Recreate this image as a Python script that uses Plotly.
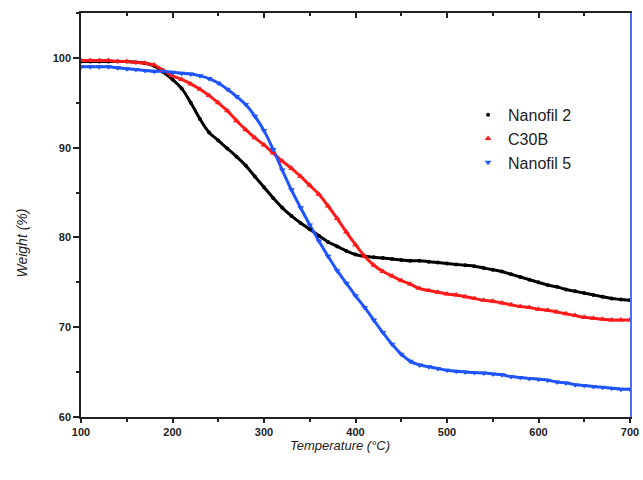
import plotly.graph_objects as go

temperature = [100, 110, 120, 130, 140, 150, 160, 170, 180, 190,
               200, 210, 220, 230, 240, 250, 260, 270, 280, 290,
               300, 310, 320, 330, 340, 350, 360, 370, 380, 390,
               400, 410, 420, 430, 440, 450, 460, 470, 480, 490,
               500, 510, 520, 530, 540, 550, 560, 570, 580, 590,
               600, 610, 620, 630, 640, 650, 660, 670, 680, 690, 700]

nanofil2 = [99.6, 99.6, 99.6, 99.6, 99.6, 99.6, 99.5, 99.4, 99.1, 98.4,
            97.6, 96.6, 95.0, 93.2, 91.7, 90.8, 89.9, 89.0, 88.0, 86.8,
            85.6, 84.4, 83.3, 82.4, 81.6, 80.9, 80.2, 79.5, 79.0, 78.5,
            78.1, 77.9, 77.8, 77.7, 77.6, 77.5, 77.4, 77.4, 77.3, 77.2,
            77.1, 77.0, 76.9, 76.8, 76.6, 76.4, 76.2, 75.9, 75.6, 75.3,
            75.0, 74.7, 74.5, 74.2, 74.0, 73.8, 73.6, 73.4, 73.2, 73.1, 73.0]

c30b = [99.7, 99.7, 99.7, 99.7, 99.6, 99.6, 99.5, 99.4, 99.2, 98.6,
        98.0, 97.6, 97.1, 96.5, 95.8, 95.0, 94.1, 93.0, 92.0, 91.1,
        90.3, 89.4, 88.5, 87.7, 86.8, 85.8, 84.8, 83.5, 82.1, 80.6,
        79.2, 77.9, 76.9, 76.2, 75.7, 75.2, 74.8, 74.3, 74.1, 73.9,
        73.7, 73.6, 73.4, 73.2, 73.0, 72.9, 72.7, 72.5, 72.3, 72.2,
        72.0, 71.9, 71.7, 71.5, 71.3, 71.1, 71.0, 70.9, 70.8, 70.8, 70.8]

nanofil5 = [99.0, 99.0, 99.0, 99.0, 98.9, 98.8, 98.7, 98.6, 98.5, 98.5,
            98.4, 98.3, 98.2, 98.0, 97.7, 97.2, 96.5, 95.7, 94.8, 93.5,
            91.9, 89.8, 87.5, 85.3, 83.3, 81.4, 79.6, 77.9, 76.3, 74.9,
            73.5, 72.2, 70.8, 69.4, 68.1, 67.0, 66.2, 65.8, 65.6, 65.4,
            65.2, 65.1, 65.0, 64.95, 64.9, 64.8, 64.7, 64.5, 64.4, 64.3,
            64.2, 64.1, 63.9, 63.8, 63.6, 63.5, 63.4, 63.3, 63.2, 63.1, 63.1]

x_range = [100, 700]
y_range = [60, 105]
x_title = "Temperature (°C)"
y_title = "Weight (%)"

series = [
    ("Nanofil 2", nanofil2, "#000000", "circle", 4),
    ("C30B", c30b, "#ff1a1a", "triangle-up", 6),
    ("Nanofil 5", nanofil5, "#1f55ff", "triangle-down", 6),
]

fig = go.Figure()
for name, vals, color, symbol, size in series:
    fig.add_trace(go.Scatter(x=temperature, y=vals, mode="lines",
                             line=dict(color=color, width=3, shape="spline"),
                             showlegend=False, hoverinfo="skip"))
for name, vals, color, symbol, size in series:
    fig.add_trace(go.Scatter(x=temperature, y=vals, mode="markers", name=name,
                             marker=dict(color=color, symbol=symbol, size=size,
                                         line=dict(width=0))))

# helper trace so the top and right frame axes are drawn
fig.add_trace(go.Scatter(x=[], y=[], xaxis="x2", yaxis="y2", showlegend=False))

FONT = "Liberation Sans, Arial, sans-serif"
AX = "#222222"
tickfont = dict(family=FONT, size=11, color=AX, weight="bold")

fig.update_layout(
    width=643, height=480,
    margin=dict(l=81, r=13, t=13, b=63, autoexpand=False),
    paper_bgcolor="white", plot_bgcolor="white",
    font=dict(family=FONT, size=11, color=AX),
    xaxis=dict(range=x_range, tickmode="linear", tick0=100, dtick=100,
               showgrid=False, zeroline=False, automargin=False,
               showline=True, linecolor=AX, linewidth=1.5,
               ticks="outside", ticklen=4, tickwidth=1.5, tickcolor=AX,
               minor=dict(tick0=100, dtick=50, ticks="outside", ticklen=3,
                          tickwidth=1.5, tickcolor=AX, showgrid=False),
               tickfont=tickfont),
    yaxis=dict(range=y_range, tickmode="linear", tick0=60, dtick=10,
               showgrid=False, zeroline=False, automargin=False,
               showline=True, linecolor=AX, linewidth=1.5,
               ticks="outside", ticklen=6, tickwidth=1.5, tickcolor=AX,
               minor=dict(tick0=60, dtick=5, ticks="outside", ticklen=3,
                          tickwidth=1.5, tickcolor=AX, showgrid=False),
               tickfont=tickfont),
    xaxis2=dict(range=x_range, overlaying="x", side="top", anchor="y",
                showline=True, linecolor=AX, linewidth=1.5, automargin=False,
                tickmode="linear", tick0=100, dtick=100,
                ticks="inside", ticklen=5, tickwidth=1.5, tickcolor=AX,
                minor=dict(tick0=100, dtick=50, ticks="inside", ticklen=3,
                           tickwidth=1.5, tickcolor=AX, showgrid=False),
                showticklabels=False, showgrid=False, zeroline=False),
    yaxis2=dict(range=y_range, overlaying="y", side="right", anchor="x",
                showline=True, linecolor="#4a6cff", linewidth=2, automargin=False,
                ticks="", showticklabels=False, showgrid=False, zeroline=False),
    legend=dict(x=0.705, y=0.79, xanchor="left", yanchor="top",
                bgcolor="rgba(0,0,0,0)", borderwidth=0,
                font=dict(family=FONT, size=16, color=AX),
                itemsizing="trace"),
    annotations=[
        dict(text="<i>" + x_title + "</i>", xref="paper", yref="paper",
             x=0.472, y=-0.07, xanchor="center", yanchor="middle", showarrow=False,
             font=dict(family=FONT, size=13, color=AX)),
        dict(text="<i>" + y_title + "</i>", xref="paper", yref="paper",
             x=-0.107, y=0.43, xanchor="center", yanchor="middle", showarrow=False,
             textangle=-90, font=dict(family=FONT, size=14, color=AX)),
    ],
)

fig.write_html("out.html", config={"displayModeBar": False},
               post_script="document.body.style.margin='0';document.body.style.overflow='hidden';")
